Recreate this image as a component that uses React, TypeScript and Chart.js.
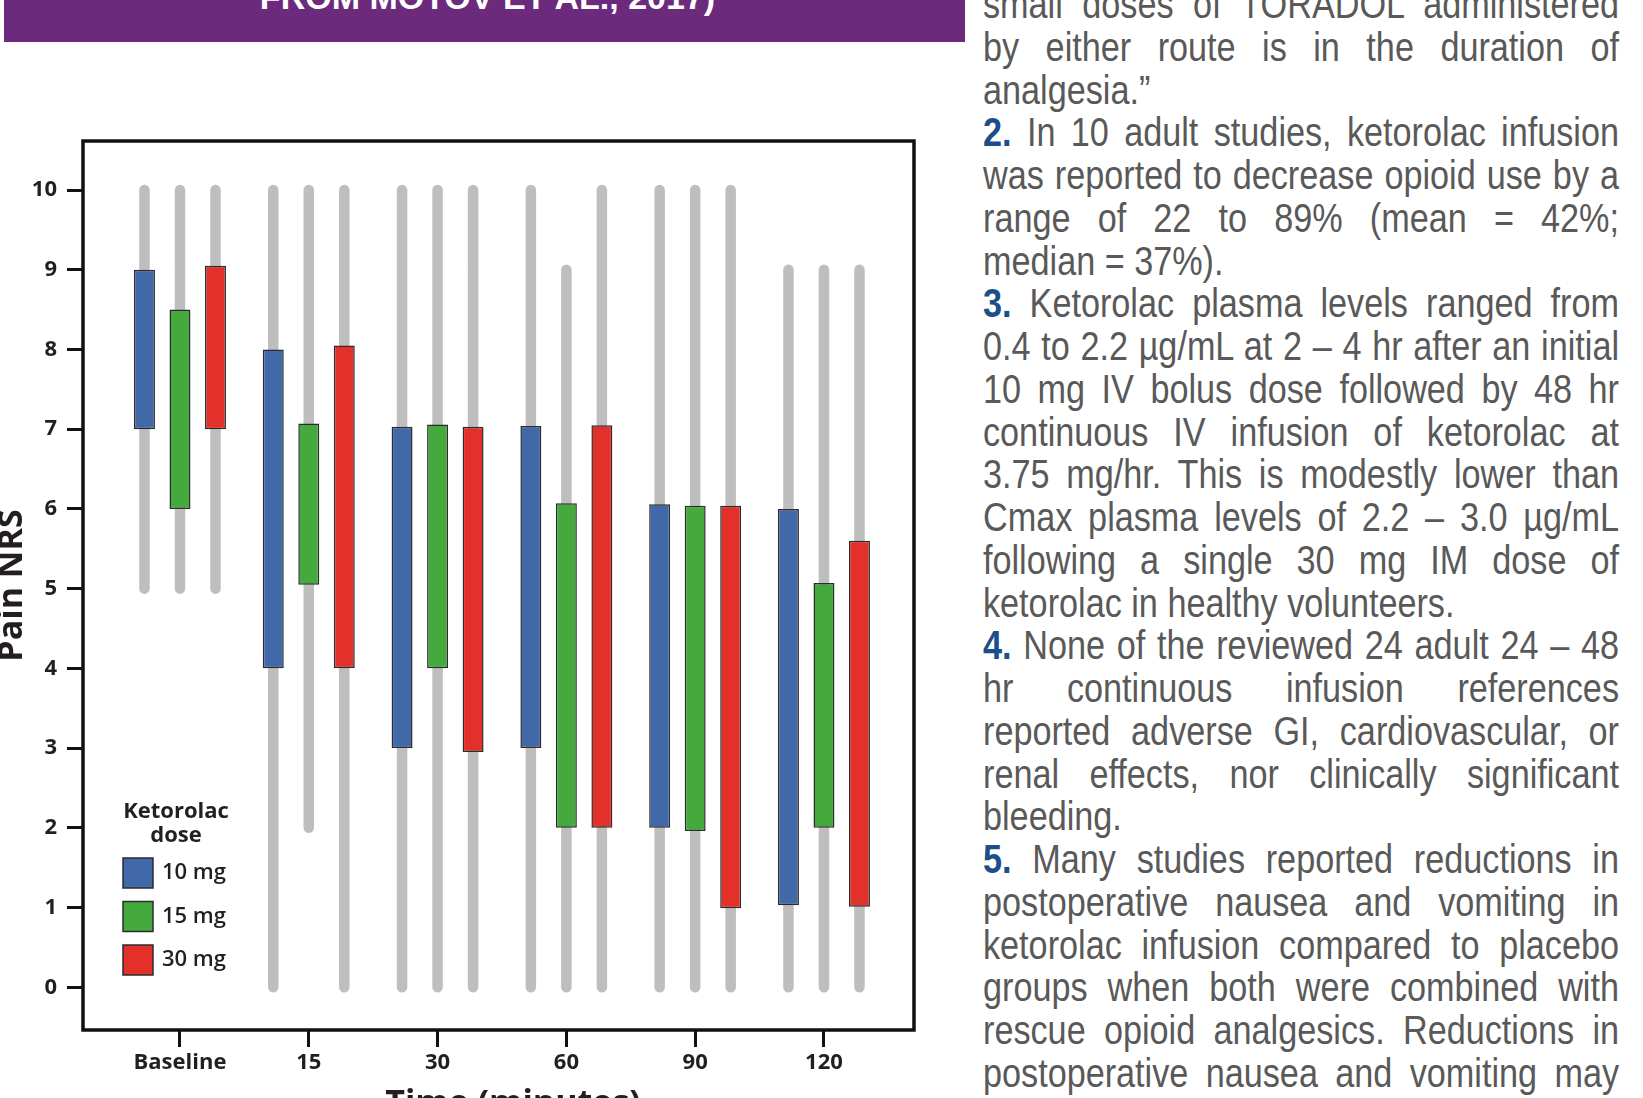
import React, { useEffect, useRef } from 'react';
import { Chart, registerables } from 'chart.js';

Chart.register(...registerables);

// ---------- data ----------
const CATEGORIES = ['Baseline', '15', '30', '60', '90', '120'];
const DOSES = ['10 mg', '15 mg', '30 mg'];
const Y_TICKS = [0, 1, 2, 3, 4, 5, 6, 7, 8, 9, 10];

// interquartile boxes (Pain NRS)
const BOX_LOW_10 = [7, 4, 3, 3, 2, 1.03];
const BOX_HIGH_10 = [9, 8, 7.03, 7.04, 6.06, 6.0];
const BOX_LOW_15 = [6, 5.05, 4, 2, 1.96, 2];
const BOX_HIGH_15 = [8.5, 7.07, 7.06, 6.07, 6.04, 5.07];
const BOX_LOW_30 = [7, 4, 2.95, 2, 0.99, 1.01];
const BOX_HIGH_30 = [9.05, 8.05, 7.03, 7.05, 6.04, 5.6];

// whiskers (range)
const WHISKER_LOW_10 = [5, 0, 0, 0, 0, 0];
const WHISKER_HIGH_10 = [10, 10, 10, 10, 10, 9];
const WHISKER_LOW_15 = [5, 2, 0, 0, 0, 0];
const WHISKER_HIGH_15 = [10, 10, 10, 9, 10, 9];
const WHISKER_LOW_30 = [5, 0, 0, 0, 0, 0];
const WHISKER_HIGH_30 = [10, 10, 10, 10, 10, 9];

const LEGEND_TITLE = ['Ketorolac', 'dose'];
const X_TITLE = 'Time (minutes)';
const Y_TITLE = 'Pain NRS';
const HEADER_TEXT = 'FROM MOTOV ET AL., 2017)';

const TEXT_LINES: { n?: string; t: string; end?: boolean }[] = [
  { t: 'small doses of TORADOL administered' },
  { t: 'by either route is in the duration of' },
  { t: 'analgesia.\u201D', end: true },
  { n: '2.', t: ' In 10 adult studies, ketorolac infusion' },
  { t: 'was reported to decrease opioid use by a' },
  { t: 'range of 22 to 89% (mean = 42%;' },
  { t: 'median = 37%).', end: true },
  { n: '3.', t: ' Ketorolac plasma levels ranged from' },
  { t: '0.4 to 2.2 \u00B5g/mL at 2 \u2013 4 hr after an initial' },
  { t: '10 mg IV bolus dose followed by 48 hr' },
  { t: 'continuous IV infusion of ketorolac at' },
  { t: '3.75 mg/hr. This is modestly lower than' },
  { t: 'Cmax plasma levels of 2.2 \u2013 3.0 \u00B5g/mL' },
  { t: 'following a single 30 mg IM dose of' },
  { t: 'ketorolac in healthy volunteers.', end: true },
  { n: '4.', t: ' None of the reviewed 24 adult 24 \u2013 48' },
  { t: 'hr continuous infusion references' },
  { t: 'reported adverse GI, cardiovascular, or' },
  { t: 'renal effects, nor clinically significant' },
  { t: 'bleeding.', end: true },
  { n: '5.', t: ' Many studies reported reductions in' },
  { t: 'postoperative nausea and vomiting in' },
  { t: 'ketorolac infusion compared to placebo' },
  { t: 'groups when both were combined with' },
  { t: 'rescue opioid analgesics. Reductions in' },
  { t: 'postoperative nausea and vomiting may' },
];

// ---------- style ----------
const DOSE_COLORS = ['#4169AA', '#45AA3D', '#E3302A'];
const WHISKER_COLOR = '#BEBEBE';
const INK = '#231F20';
const FONT = '"Open Sans", "DejaVu Sans", sans-serif';
const CAT_PCT = 0.827;
const BAR_PCT = 0.59;

const BOX_LOWS = [BOX_LOW_10, BOX_LOW_15, BOX_LOW_30];
const BOX_HIGHS = [BOX_HIGH_10, BOX_HIGH_15, BOX_HIGH_30];
const W_LOWS = [WHISKER_LOW_10, WHISKER_LOW_15, WHISKER_LOW_30];
const W_HIGHS = [WHISKER_HIGH_10, WHISKER_HIGH_15, WHISKER_HIGH_30];

function boxData(lo: number[], hi: number[]) {
  return CATEGORIES.map((_, i) => ({ x: i, y: [lo[i], hi[i]] }));
}

function whiskerData(lo: number[], hi: number[], k: number) {
  const slot = CAT_PCT / DOSES.length;
  const off = (k - (DOSES.length - 1) / 2) * slot;
  const pts: any[] = [];
  CATEGORIES.forEach((_, i) => {
    pts.push({ x: i + off, y: lo[i] }, { x: i + off, y: hi[i] }, { x: i + off, y: null });
  });
  return pts;
}

const framePlugin = {
  id: 'frameAndLegend',
  afterDatasetsDraw(chart: any) {
    const { ctx, chartArea } = chart;
    const { left, top, right, bottom } = chartArea;
    ctx.save();
    ctx.lineWidth = 3.5;
    ctx.strokeStyle = '#111';
    ctx.strokeRect(left, top, right - left, bottom - top);

    // legend
    ctx.fillStyle = INK;
    ctx.font = `bold 22px ${FONT}`;
    ctx.textAlign = 'center';
    ctx.textBaseline = 'middle';
    LEGEND_TITLE.forEach((t, i) => ctx.fillText(t, left + 93, bottom - 218 + i * 23.5));
    const boxes = chart.data.datasets.filter((d: any) => d.type === 'bar');
    boxes.forEach((d: any, i: number) => {
      const cy = bottom - 157 + i * 43.5;
      ctx.fillStyle = d.backgroundColor;
      ctx.fillRect(left + 40, cy - 15, 30, 30);
      ctx.lineWidth = 1.5;
      ctx.strokeStyle = '#2B2B2B';
      ctx.strokeRect(left + 40, cy - 15, 30, 30);
      ctx.fillStyle = INK;
      ctx.textAlign = 'left';
      ctx.font = `600 22px ${FONT}`;
      ctx.fillText(d.label, left + 79, cy);
    });

    // x axis title (centred a little right of the plot centre, as in the source figure)
    ctx.font = `bold 34px ${FONT}`;
    ctx.textAlign = 'center';
    ctx.textBaseline = 'alphabetic';
    ctx.fillStyle = INK;
    ctx.fillText(X_TITLE, (left + right) / 2 + 14.5, bottom + 84);
    ctx.restore();
  },
};

function BoxChart() {
  const ref = useRef<HTMLCanvasElement>(null);
  useEffect(() => {
    if (!ref.current) return;
    const datasets: any[] = [];
    DOSES.forEach((label, k) => {
      datasets.push({
        type: 'bar',
        label,
        data: boxData(BOX_LOWS[k], BOX_HIGHS[k]),
        backgroundColor: DOSE_COLORS[k],
        borderColor: '#2B2B2B',
        borderWidth: 1.5,
        borderSkipped: false,
        categoryPercentage: CAT_PCT,
        barPercentage: BAR_PCT,
        order: 0,
      });
    });
    DOSES.forEach((label, k) => {
      datasets.push({
        type: 'line',
        label: label + ' range',
        data: whiskerData(W_LOWS[k], W_HIGHS[k], k),
        borderColor: WHISKER_COLOR,
        borderWidth: 10.5,
        borderCapStyle: 'round',
        pointRadius: 0,
        fill: false,
        spanGaps: false,
        tension: 0,
        order: 1,
      });
    });

    const chart = new Chart(ref.current, {
      type: 'bar',
      data: { datasets },
      plugins: [framePlugin],
      options: {
        animation: false,
        responsive: false,
        events: [],
        layout: { padding: { left: 0, top: 41, right: 21, bottom: 30 } },
        plugins: { legend: { display: false }, tooltip: { enabled: false } },
        scales: {
          x: {
            type: 'linear',
            min: -0.753,
            max: 5.699,
            offset: false,
            border: { display: false },
            grid: { drawOnChartArea: false, drawTicks: true, tickLength: 17, color: '#111', lineWidth: 3, offset: false },
            afterBuildTicks: (axis: any) => {
              axis.ticks = CATEGORIES.map((_, i) => ({ value: i }));
            },
            ticks: {
              autoSkip: false,
              maxRotation: 0,
              minRotation: 0,
              padding: 3,
              color: INK,
              font: { family: FONT, size: 22, weight: 'bold' },
              callback: (_v: any, i: number) => CATEGORIES[i],
            },
            title: { display: false },
            afterFit: (axis: any) => {
              axis.height = 100;
            },
          } as any,
          y: {
            type: 'linear',
            min: -0.536,
            max: 10.615,
            stacked: false,
            border: { display: false },
            grid: { drawOnChartArea: false, drawTicks: true, tickLength: 16, color: '#111', lineWidth: 3 },
            afterBuildTicks: (axis: any) => {
              axis.ticks = Y_TICKS.map((v) => ({ value: v }));
            },
            ticks: {
              autoSkip: false,
              padding: 10,
              color: INK,
              font: { family: FONT, size: 22, weight: 'bold' },
              callback: (v: any) => String(v),
            },
            title: {
              display: true,
              text: Y_TITLE,
              color: INK,
              font: { family: FONT, size: 34, weight: 'bold', lineHeight: 1 },
              padding: { top: 0, bottom: 0 },
            },
            afterFit: (axis: any) => {
              axis.width = 88;
            },
          } as any,
        },
      } as any,
    });
    return () => chart.destroy();
  }, []);
  return (
    <canvas
      ref={ref}
      width={940}
      height={1060}
      style={{ position: 'absolute', left: -5, top: 100, width: 940, height: 1060 }}
    />
  );
}

export default function App() {
  const lineH = 42.75;
  const textTop = -16.9;
  const squeeze = 0.855;
  const textW = 636;
  return (
    <div
      style={{
        position: 'fixed',
        left: 0,
        top: 0,
        width: 1643,
        height: 1098,
        overflow: 'hidden',
        background: '#ffffff',
      }}
    >
      <div
        style={{
          position: 'absolute',
          left: 4,
          top: 0,
          width: 961,
          height: 42,
          background: '#6C2A7D',
          overflow: 'hidden',
        }}
      >
        <div
          style={{
            position: 'absolute',
            left: 3,
            top: -20,
            width: '100%',
            textAlign: 'center',
            color: '#ffffff',
            fontFamily: '"Liberation Sans", Arial, sans-serif',
            fontWeight: 'bold',
            fontSize: 34,
            lineHeight: '34px',
            whiteSpace: 'nowrap',
          }}
        >
          {HEADER_TEXT}
        </div>
      </div>
      <BoxChart />
      {TEXT_LINES.map((ln, i) => (
        <div
          key={i}
          style={{
            position: 'absolute',
            left: 983,
            top: textTop + i * lineH,
            width: textW / squeeze,
            height: lineH,
            lineHeight: `${lineH}px`,
            fontFamily: '"Liberation Sans", Arial, sans-serif',
            fontSize: 40,
            color: '#595959',
            textAlign: 'justify',
            textAlignLast: ln.end ? 'left' : 'justify',
            transform: `scaleX(${squeeze})`,
            transformOrigin: 'left top',
          } as any}
        >
          {ln.n ? <b style={{ color: '#1B4F8A' }}>{ln.n}</b> : null}
          {ln.t}
        </div>
      ))}
    </div>
  );
}
